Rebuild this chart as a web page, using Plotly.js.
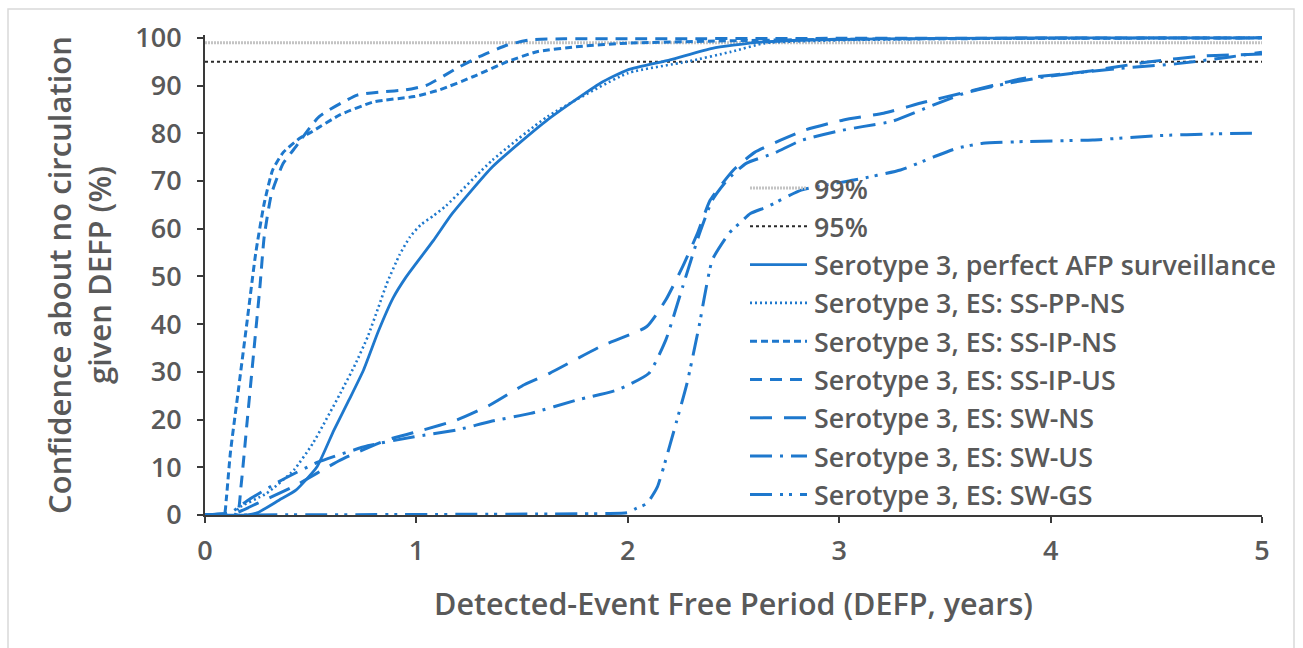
<!DOCTYPE html>
<html>
<head>
<meta charset="utf-8">
<script src="https://cdn.plot.ly/plotly-3.0.1.min.js"></script>
<style>html,body{margin:0;padding:0;background:#fff;}#chart{width:1303px;height:648px;}</style>
</head>
<body>
<div id="chart"></div>
<script>
// ---- Data ----
const xTicks = [0, 1, 2, 3, 4, 5];
const yTicks = [0, 10, 20, 30, 40, 50, 60, 70, 80, 90, 100];

const refX = [0, 5];
const ref99 = [99, 99];
const ref95 = [95, 95];

const perfectX = [0, 0.2, 0.25, 0.35, 0.43, 0.53, 0.61, 0.68, 0.75, 0.82, 0.89, 0.95, 1.0, 1.08, 1.17, 1.36, 1.62, 1.87, 2.0, 2.2, 2.4, 2.6, 2.9, 3.5, 4.0, 5.0];
const perfectY = [0, 0, 0.5, 3.1, 5.2, 10.1, 17.8, 24.0, 30.4, 38.5, 45.5, 49.8, 52.8, 57.5, 63.2, 73.0, 82.8, 90.5, 93.3, 95.4, 97.8, 99.0, 99.6, 99.9, 100, 100];

const ppnsX = [0, 0.14, 0.16, 0.29, 0.42, 0.51, 0.64, 0.71, 0.77, 0.82, 0.86, 0.92, 0.97, 1.02, 1.08, 1.14, 1.36, 1.62, 2.0, 2.28, 2.49, 2.65, 3.0, 3.5, 5.0];
const ppnsY = [0, 0, 1.5, 4.5, 9.4, 15.0, 25.5, 31.5, 37.4, 43.5, 48.5, 54.5, 58.3, 60.8, 62.7, 64.8, 74.4, 83.5, 92.6, 95.0, 97.1, 98.9, 99.5, 99.8, 100];

const ipnsX = [0, 0.09, 0.1, 0.12, 0.16, 0.2, 0.24, 0.28, 0.32, 0.37, 0.45, 0.5, 0.64, 0.8, 0.99, 1.11, 1.27, 1.43, 1.57, 1.77, 2.0, 2.5, 3.0, 4.0, 5.0];
const ipnsY = [0, 0, 3, 13, 26.9, 40.9, 54.9, 65.3, 72.3, 76.0, 79.0, 80.2, 83.9, 86.6, 87.7, 89.1, 91.9, 95.0, 97.1, 98.2, 98.9, 99.4, 99.7, 99.9, 100];

const ipusX = [0, 0.15, 0.17, 0.2, 0.23, 0.26, 0.28, 0.315, 0.37, 0.43, 0.54, 0.72, 0.84, 0.95, 1.05, 1.19, 1.3, 1.43, 1.54, 1.7, 2.0, 3.0, 5.0];
const ipusY = [0, 0, 5.9, 19.9, 33.9, 47.9, 58.3, 67.4, 73.7, 77.2, 83.5, 88.0, 88.7, 89.1, 90.1, 93.6, 96.1, 98.5, 99.6, 99.8, 99.8, 99.9, 100];

const swnsX = [0, 0.15, 0.25, 0.42, 0.64, 0.86, 1.03, 1.19, 1.35, 1.51, 1.63, 1.87, 2.09, 2.18, 2.26, 2.33, 2.39, 2.5, 2.6, 2.72, 2.84, 3.02, 3.21, 3.4, 3.58, 3.87, 4.16, 4.47, 4.72, 5.0];
const swnsY = [0, 0.5, 2.5, 6.0, 11.5, 15.7, 17.8, 19.9, 23.1, 27.3, 29.7, 35.3, 39.5, 45.1, 52.1, 59.1, 66.0, 72.3, 76.0, 78.5, 80.7, 82.8, 84.2, 86.5, 88.4, 91.5, 92.9, 95.0, 96.2, 96.6];

const swusX = [0, 0.12, 0.2, 0.35, 0.53, 0.77, 0.99, 1.19, 1.35, 1.54, 1.76, 1.95, 2.1, 2.18, 2.26, 2.34, 2.4, 2.47, 2.56, 2.69, 2.82, 3.0, 3.11, 3.25, 3.45, 3.6, 3.8, 4.0, 4.3, 4.6, 4.85, 5.0];
const swusY = [0, 0.5, 3.0, 7.0, 11.0, 14.5, 16.4, 17.8, 19.6, 21.3, 24.1, 26.2, 29.7, 36.7, 47.9, 59.1, 66.0, 70.2, 73.7, 75.8, 78.5, 80.5, 81.4, 82.5, 86.0, 88.5, 90.5, 92.0, 93.5, 94.6, 96.0, 97.0];

const swgsX = [0, 1.9, 2.0, 2.04, 2.09, 2.14, 2.17, 2.23, 2.28, 2.34, 2.36, 2.4, 2.48, 2.53, 2.58, 2.66, 2.82, 3.07, 3.29, 3.45, 3.56, 3.68, 3.9, 4.2, 4.5, 4.79, 4.98];
const swgsY = [0, 0.3, 0.5, 1.4, 2.4, 5.9, 10.1, 19.5, 27.6, 40.2, 45.1, 53.5, 59.1, 61.2, 63.2, 64.6, 68.1, 70.2, 72.3, 75.1, 76.9, 77.9, 78.3, 78.6, 79.5, 79.9, 80.0];

const seriesNames = [
  "99%",
  "95%",
  "Serotype 3, perfect AFP surveillance",
  "Serotype 3, ES: SS-PP-NS",
  "Serotype 3, ES: SS-IP-NS",
  "Serotype 3, ES: SS-IP-US",
  "Serotype 3, ES: SW-NS",
  "Serotype 3, ES: SW-US",
  "Serotype 3, ES: SW-GS"
];

// ---- Styles ----
const BLUE = "#1E78CD";
const styles = [
  {color: "#c4c4c4", width: 3, dash: "2px,1px"},
  {color: "#2a2a2a", width: 2, dash: "3px,3px"},
  {color: BLUE, width: 2.8, dash: "solid"},
  {color: BLUE, width: 2.6, dash: "2px,3px"},
  {color: BLUE, width: 3, dash: "7px,4px"},
  {color: BLUE, width: 3, dash: "12px,8px"},
  {color: BLUE, width: 3, dash: "22px,12px"},
  {color: BLUE, width: 3, dash: "22px,8px,3px,8px"},
  {color: BLUE, width: 3, dash: "22px,8px,3px,6px,3px,8px"}
];

const xs = [refX, refX, perfectX, ppnsX, ipnsX, ipusX, swnsX, swusX, swgsX];
const ys = [ref99, ref95, perfectY, ppnsY, ipnsY, ipusY, swnsY, swusY, swgsY];

const traces = xs.map((x, i) => ({
  type: "scatter", mode: "lines", x: x, y: ys[i], name: seriesNames[i],
  line: {color: styles[i].color, width: styles[i].width, dash: styles[i].dash, shape: "spline", smoothing: 0.5},
  showlegend: false, hoverinfo: "skip"
}));
traces[0].line.shape = "linear";
traces[1].line.shape = "linear";

// ---- Layout geometry ----
const W = 1303, H = 648;
const M = {l: 205, r: 41, t: 35, b: 133};
const PW = W - M.l - M.r, PH = H - M.t - M.b;
const px2x = p => (p - M.l) / PW;
const px2y = p => (H - M.b - p) / PH;

const FONT = "'Open Sans', Lato, sans-serif";
const GREY = "#595959";

const shapes = [{
  type: "rect", xref: "paper", yref: "paper", layer: "below",
  x0: px2x(8), x1: px2x(1294), y0: px2y(670), y1: px2y(9),
  line: {color: "#d9d9d9", width: 1.5}, fillcolor: "rgba(0,0,0,0)"
}];
const annotations = [];
seriesNames.forEach((n, i) => {
  const py = 188 + i * 38.3;
  shapes.push({type: "line", xref: "paper", yref: "paper", x0: px2x(750), x1: px2x(807), y0: px2y(py), y1: px2y(py),
    line: {color: styles[i].color, width: styles[i].width, dash: styles[i].dash}});
  annotations.push({xref: "paper", yref: "paper", x: px2x(812), y: px2y(py), xanchor: "left", yanchor: "middle",
    text: n, showarrow: false, font: {family: FONT, size: 26.8, color: GREY, weight: 600}});
});

const axisCommon = {
  showline: true, linecolor: "#3a3a3a", linewidth: 2, mirror: false,
  ticks: "outside", ticklen: 6, tickwidth: 2, tickcolor: "#3a3a3a",
  showgrid: false, zeroline: false, fixedrange: true,
  tickfont: {family: FONT, size: 27, color: GREY, weight: 600}
};

const layout = {
  width: W, height: H, margin: M,
  paper_bgcolor: "#fff", plot_bgcolor: "#fff",
  showlegend: false,
  xaxis: Object.assign({}, axisCommon, {
    range: [0, 5], tickmode: "array", tickvals: xTicks, ticktext: xTicks.map(String),
    ticklabelstandoff: 5,
    title: {text: "Detected-Event Free Period (DEFP, years)", standoff: 26,
      font: {family: FONT, size: 30.5, color: GREY, weight: 600}}
  }),
  yaxis: Object.assign({}, axisCommon, {
    range: [0, 100.6], tickmode: "array", tickvals: yTicks, ticktext: yTicks.map(String),
    ticklabelstandoff: 10,
    title: {text: "Confidence about no circulation<br>given DEFP (%)", standoff: 14,
      font: {family: FONT, size: 31, color: GREY, weight: 600}}
  }),
  shapes: shapes,
  annotations: annotations
};

Plotly.newPlot("chart", traces, layout, {displayModeBar: false, staticPlot: true});
</script>
</body>
</html>
